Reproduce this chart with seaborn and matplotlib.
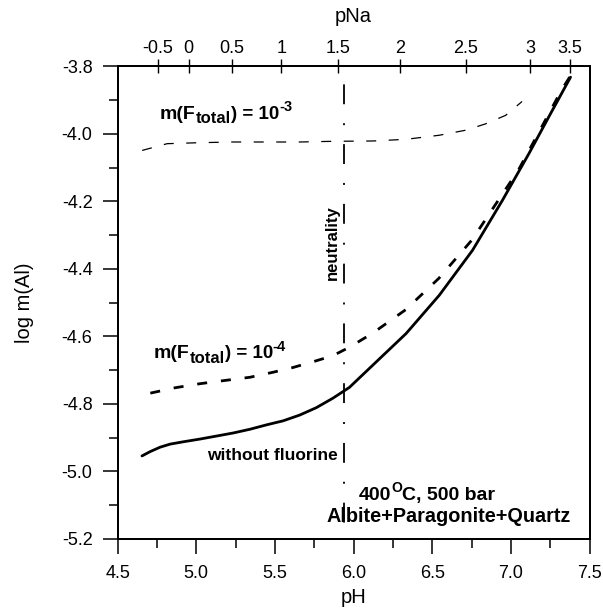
import numpy as np
import pandas as pd
import matplotlib
matplotlib.use("Agg")
import matplotlib.pyplot as plt
import seaborn as sns

# ---- data ----
ph_nof = [4.655, 4.708, 4.771, 4.834, 4.919, 5.024, 5.130, 5.235, 5.341, 5.446, 5.552, 5.657,
          5.763, 5.868, 5.973, 6.079, 6.334, 6.544, 6.755, 6.945, 7.114, 7.251, 7.378]
logal_nof = [-4.954, -4.941, -4.928, -4.919, -4.912, -4.904, -4.895, -4.886, -4.875, -4.862, -4.850, -4.833,
             -4.811, -4.783, -4.751, -4.704, -4.591, -4.478, -4.345, -4.197, -4.058, -3.940, -3.832]

ph_f4 = [4.708, 4.866, 5.024, 5.172, 5.341, 5.489, 5.615, 5.763, 5.868, 5.973, 6.122, 6.330,
         6.541, 6.752, 6.900, 7.047, 7.185, 7.321, 7.375]
logal_f4 = [-4.768, -4.752, -4.740, -4.731, -4.721, -4.706, -4.692, -4.672, -4.657, -4.632, -4.590, -4.521,
            -4.428, -4.314, -4.210, -4.107, -3.988, -3.870, -3.830]

ph_f3 = [4.656, 4.815, 5.025, 5.236, 5.447, 5.658, 5.869, 6.122, 6.334, 6.544, 6.713, 6.840, 6.966, 7.070]
logal_f3 = [-4.049, -4.029, -4.026, -4.024, -4.024, -4.024, -4.022, -4.021, -4.016, -4.004, -3.989, -3.970, -3.945, -3.904]

neutral_ph = 5.937

ph_ticks = [4.5, 5.0, 5.5, 6.0, 6.5, 7.0, 7.5]
logal_ticks = [-3.8, -4.0, -4.2, -4.4, -4.6, -4.8, -5.0, -5.2]
pna_labels = ["-0.5", "0", "0.5", "1", "1.5", "2", "2.5", "3", "3.5"]
pna_tick_ph = [4.757, 4.951, 5.226, 5.540, 5.901, 6.296, 6.714, 7.120, 7.375]

# ---- style ----
sns.set_style("ticks")
plt.rcParams['font.family'] = ['Liberation Sans', 'DejaVu Sans']
plt.rcParams['axes.unicode_minus'] = False
for k in ['text.color', 'axes.labelcolor', 'xtick.color', 'ytick.color', 'axes.edgecolor']:
    plt.rcParams[k] = 'black'

fig = plt.figure(figsize=(6.03, 6.09), dpi=100)
ax = fig.add_axes([0.195, 0.115, 0.783, 0.776])

df_nof = pd.DataFrame({"pH": ph_nof, "logAl": logal_nof})
df_f4 = pd.DataFrame({"pH": ph_f4, "logAl": logal_f4})
df_f3 = pd.DataFrame({"pH": ph_f3, "logAl": logal_f3})

sns.lineplot(data=df_nof, x="pH", y="logAl", ax=ax, color="black", lw=2.0, sort=False)
sns.lineplot(data=df_f4, x="pH", y="logAl", ax=ax, color="black", lw=2.0, sort=False,
             linestyle=(0, (3.6, 5.0)))
sns.lineplot(data=df_f3, x="pH", y="logAl", ax=ax, color="black", lw=0.9, sort=False,
             linestyle=(0, (8, 10)))
ax.axvline(neutral_ph, color="black", lw=1.3, linestyle=(24, (11, 10.5, 1.1, 10.5)))

ax.set_xlim(4.5, 7.5)
ax.set_ylim(-5.2, -3.8)
ax.set_xticks(ph_ticks)
ax.set_xticklabels([f"{v:.1f}" for v in ph_ticks])
ax.set_xticks(np.arange(4.75, 7.5, 0.5), minor=True)
ax.set_yticks(logal_ticks)
ax.set_yticklabels([f"{v:.1f}" for v in logal_ticks])
ax.set_yticks(np.arange(-5.1, -3.8, 0.2), minor=True)
ax.tick_params(which="major", direction="out", length=11, width=1.1, labelsize=13, color="black")
ax.tick_params(axis="x", which="major", pad=8)
ax.tick_params(axis="y", which="major", pad=7)
ax.tick_params(which="minor", direction="out", length=6.5, width=1.1, color="black")
ax.set_xlabel("pH", fontsize=14.5, labelpad=4)
ax.set_ylabel("log m(Al)", fontsize=14.5, labelpad=20)
for s in ax.spines.values():
    s.set_linewidth(1.4)

ax2 = ax.twiny()
ax2.set_xlim(ax.get_xlim())
ax2.set_xticks(pna_tick_ph)
ax2.set_xticklabels(pna_labels)
ax2.tick_params(axis="x", direction="inout", length=10, width=1.0, labelsize=13, pad=2, color="black")
ax2.set_xlabel("pNa", fontsize=14.5, labelpad=13)
for s in ax2.spines.values():
    s.set_linewidth(1.4)


def rich_text(x, y, pieces):
    """pieces: list of (text, fontsize, vertical offset in points)"""
    txt, fs, dy = pieces[0]
    prev = ax.annotate(txt, xy=(x, y), xycoords="data", xytext=(0, dy), textcoords="offset points",
                       fontsize=fs, fontweight="bold", va="baseline", ha="left")
    for txt, fs, dy in pieces[1:]:
        prev = ax.annotate(txt, xy=(1, y), xycoords=(prev, "data"), xytext=(0, dy),
                           textcoords="offset points", fontsize=fs, fontweight="bold",
                           va="baseline", ha="left")


rich_text(4.77, -3.956, [("m(F", 14, 0), ("total", 12, -3), (") = 10", 13.5, 0), ("-3", 10.5, 5.5)])
rich_text(4.729, -4.665, [("m(F", 14, 0), ("total", 12, -3), (") = 10", 13.5, 0), ("-4", 10.5, 5.5)])
ax.text(5.066, -4.966, "without fluorine", fontsize=12.5, fontweight="bold", va="baseline", ha="left")
ax.text(5.865, -4.323, "neutrality", fontsize=12, fontweight="bold", rotation=90,
        va="center", ha="center")
rich_text(6.034, -5.084, [("400", 14, 0), ("O", 10, 5.5), ("C, 500 bar", 14, 0)])
ax.text(5.826, -5.150, "Albite+Paragonite+Quartz", fontsize=14.3, fontweight="bold",
        va="baseline", ha="left")

fig.savefig("out.png", dpi=100, facecolor="white")
